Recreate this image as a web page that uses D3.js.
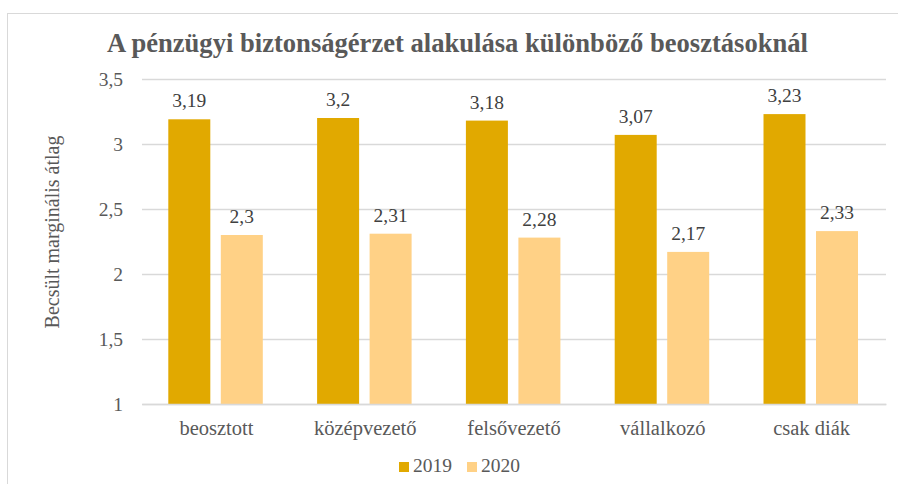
<!DOCTYPE html>
<html><head><meta charset="utf-8">
<script src="https://cdn.jsdelivr.net/npm/d3@7"></script>
<style>body{margin:0;background:#fff}svg{display:block}svg text{font-family:'Liberation Serif','Times New Roman',serif}</style>
</head><body>
<script>
const categories = ["beosztott","középvezető","felsővezető","vállalkozó","csak diák"];
const seriesNames = ["2019","2020"];
const values2019 = [3.19,3.2,3.18,3.07,3.23];
const values2020 = [2.3,2.31,2.28,2.17,2.33];
const yTicks = [1,1.5,2,2.5,3,3.5];
const colors = ["#E1A900","#FFD186"];

(function(){
const W=898,H=484;
const serif="'Liberation Serif','Times New Roman',serif";
const svg=d3.select("body").append("svg").attr("width",W).attr("height",H).style("font-family",serif);
svg.append("rect").attr("x",7.5).attr("y",13.5).attr("width",W).attr("height",H).attr("fill","#fff").attr("stroke","#D9D9D9");

const pl=142,pr=886,pt=79,pb=404;
const fmt=d=>String(d).replace(".",",");
const x=d3.scaleBand().domain(categories).range([pl,pr]).paddingInner(0).paddingOuter(0);
const y=d3.scaleLinear().domain([1,3.5]).range([pb,pt]);
const inner=d3.scaleBand().domain(seriesNames).range([26.3,120.8]).paddingInner(0.2);

const fs=19.5;
svg.append("text").attr("x",107).attr("y",52)
  .style("font-family",serif).attr("font-weight","bold").attr("font-size",27).attr("fill","#595959")
  .attr("textLength",701).attr("lengthAdjust","spacingAndGlyphs")
  .text("A pénzügyi biztonságérzet alakulása különböző beosztásoknál");

const ya=svg.append("g").attr("transform",`translate(${pl},0)`)
  .call(d3.axisLeft(y).tickValues(yTicks).tickFormat(fmt).tickSize(-(pr-pl)).tickPadding(19));
ya.attr("font-family",null);
ya.select(".domain").remove();
ya.selectAll(".tick line").attr("stroke","#D9D9D9").attr("stroke-width",1.3);
ya.selectAll(".tick text").style("font-family",serif).attr("font-size",fs).attr("fill","#595959");

svg.append("text").attr("transform",`translate(59,${232}) rotate(-90)`).attr("text-anchor","middle")
  .style("font-family",serif).attr("font-size",20).attr("fill","#595959").text("Becsült marginális átlag");

const data=categories.map((c,i)=>({c,vals:[values2019[i],values2020[i]]}));
const g=svg.append("g");
data.forEach(d=>{
  d.vals.forEach((v,j)=>{
    const bx=x(d.c)+inner(seriesNames[j]);
    g.append("rect").attr("x",bx).attr("y",y(v)).attr("width",inner.bandwidth()).attr("height",y(1)-y(v)).attr("fill",colors[j]);
    g.append("text").attr("x",bx+inner.bandwidth()/2).attr("y",y(v)-12).attr("text-anchor","middle")
      .style("font-family",serif).attr("font-size",fs).attr("fill","#404040").text(fmt(v));
  });
});

const xa=svg.append("g").attr("transform",`translate(0,${pb})`).call(d3.axisBottom(x).tickSize(0).tickPadding(0));
xa.attr("font-family",null);
xa.select(".domain").attr("stroke","#D9D9D9").attr("stroke-width",1.3);
xa.selectAll(".tick text").attr("dy",null).attr("y",31).style("font-family",serif).attr("font-size",20.5).attr("fill","#595959");

const lg=svg.append("g");
const lx=[399,467];
seriesNames.forEach((s,i)=>{
  lg.append("rect").attr("x",lx[i]).attr("y",462).attr("width",10).attr("height",10).attr("fill",colors[i]);
  lg.append("text").attr("x",lx[i]+14).attr("y",472).style("font-family",serif).attr("font-size",fs).attr("fill","#595959").text(s);
});
})();
</script>
</body></html>
